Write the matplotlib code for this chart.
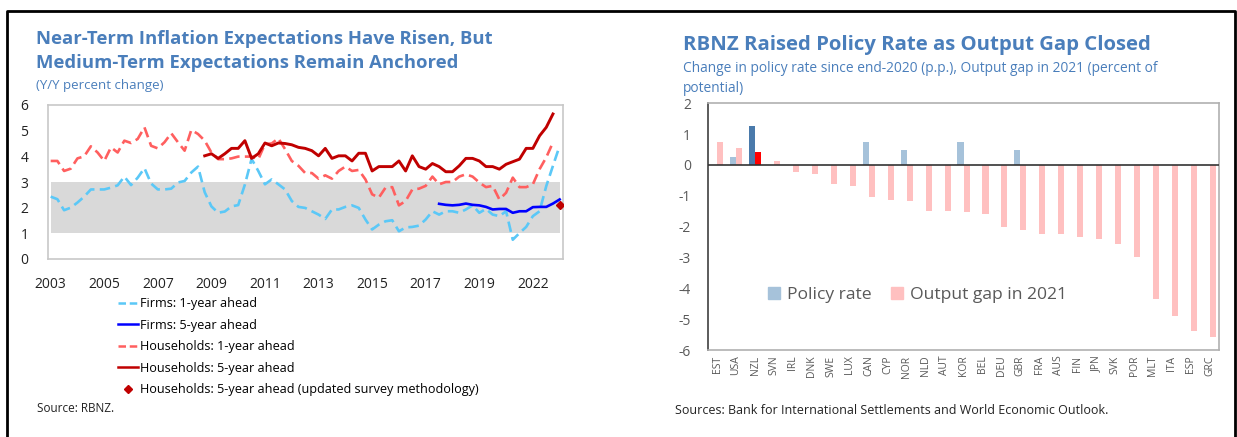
import numpy as np
import matplotlib; matplotlib.use("Agg")
import matplotlib.pyplot as plt
from matplotlib.lines import Line2D
from matplotlib.patches import Patch

plt.rcParams['font.family'] = ['Open Sans', 'DejaVu Sans']

# ---- left panel: inflation expectations (quarterly, 2003Q1 onward) ----
hh1 = [3.82,3.82,3.43,3.52,3.92,4.0,4.39,4.15,3.82,4.35,
       4.15,4.61,4.52,4.68,5.13,4.41,4.31,4.55,4.9,4.55,
       4.22,5.03,4.87,4.61,4.15,3.89,3.89,3.92,3.99,3.99,
       3.99,3.89,4.48,4.5,4.7,4.28,3.82,3.63,3.35,3.35,
       3.13,3.26,3.13,3.43,3.6,3.43,3.47,3.1,2.52,2.39,
       2.78,2.8,2.09,2.26,2.71,2.74,2.85,3.21,2.91,3.0,
       3.0,3.21,3.3,3.21,2.98,2.8,2.85,2.32,2.58,3.17,
       2.8,2.8,2.91,3.5,3.96,4.54]
hh5_start = 23
hh5 = [4.02,4.1,3.92,4.1,4.31,4.31,4.61,3.92,4.1,4.52,
       4.41,4.52,4.5,4.45,4.35,4.31,4.22,4.02,4.31,3.92,
       4.02,4.02,3.82,4.12,4.12,3.43,3.6,3.6,3.6,3.82,
       3.43,4.02,3.6,3.5,3.72,3.6,3.4,3.4,3.63,3.92,
       3.92,3.82,3.6,3.6,3.5,3.69,3.79,3.89,4.31,4.31,
       4.8,5.13,5.65]
f1 = [2.43,2.33,1.9,2.0,2.2,2.43,2.71,2.71,2.71,2.78,
      2.87,3.21,2.88,3.17,3.54,2.94,2.71,2.71,2.74,2.98,
      3.04,3.37,3.6,2.6,2.05,1.8,1.85,2.05,2.1,2.9,
      3.9,3.43,2.91,3.1,2.91,2.71,2.26,2.03,1.99,1.86,
      1.73,1.56,1.93,1.93,2.03,2.09,1.99,1.54,1.15,1.34,
      1.47,1.51,1.08,1.23,1.25,1.3,1.54,1.86,1.73,1.86,
      1.86,1.8,1.93,2.09,1.8,1.95,1.73,1.67,1.86,0.75,
      1.01,1.25,1.67,1.86,2.84,3.63,4.41]
f5_start = 58
f5 = [2.15,2.11,2.09,2.11,2.16,2.11,2.09,2.03,1.93,1.95,
      1.95,1.8,1.86,1.86,2.02,2.03,2.03,2.16,2.32]
hh5_new_q, hh5_new = 76, 2.1
band = (1, 3)
year_ticks = [0, 8, 16, 24, 32, 40, 48, 56, 64, 72]
year_labels = ['2003','2005','2007','2009','2011','2013','2015','2017','2019','2022']

# ---- right panel: policy rate change vs output gap ----
countries = ['EST','USA','NZL','SVN','IRL','DNK','SWE','LUX','CAN','CYP','NOR','NLD','AUT','KOR',
             'BEL','DEU','GBR','FRA','AUS','FIN','JPN','SVK','POR','MLT','ITA','ESP','GRC']
policy = [0,0.25,1.25,0,0,0,0,0,0.75,0,0.5,0,0,0.75,0,0,0.5,0,0,0,0,0,0,0,0,0,0]
gap = [0.75,0.56,0.43,0.13,-0.22,-0.3,-0.63,-0.69,-1.04,-1.12,-1.16,-1.49,-1.49,-1.54,
       -1.59,-2.0,-2.12,-2.23,-2.25,-2.32,-2.41,-2.56,-2.97,-4.33,-4.9,-5.37,-5.58]

TITLE = '#4a7ebb'
W, H = 1237, 437
fig = plt.figure(figsize=(W/100, H/100), dpi=100)

# outer box
fig.add_artist(Line2D([7/W, 7/W, 1235/W, 1235/W], [0, 1-11/H, 1-11/H, 0], color='black', lw=2))

# left panel
ax = fig.add_axes([48/W, 1-259/H, 515/W, 154/H])
ax.fill_between([0, 76], band[0], band[1], color='#d9d9d9', lw=0, zorder=1)
q = np.arange(len(f1))
ax.plot(q, f1, color='#5bc8f7', lw=1.9, ls=(0, (4, 2)), zorder=3)
ax.plot(np.arange(f5_start, f5_start+len(f5)), f5, color='#0000ff', lw=1.9, zorder=4)
ax.plot(np.arange(len(hh1)), hh1, color='#ff5f5f', lw=1.9, ls=(0, (4, 2)), zorder=3)
ax.plot(np.arange(hh5_start, hh5_start+len(hh5)), hh5, color='#c00000', lw=2.1, zorder=4)
ax.plot([hh5_new_q], [hh5_new], 'D', color='#c00000', ms=4.5, zorder=5)
ax.set_xlim(-0.4, 76.5); ax.set_ylim(0, 6)
ax.set_yticks(range(0, 7)); ax.set_xticks(year_ticks); ax.set_xticklabels(year_labels)
ax.tick_params(length=0, labelsize=10, colors='#222222')
ax.tick_params(axis='x', pad=13)
ax.tick_params(axis='y', pad=14)
for s in ax.spines.values(): s.set_color('#c8c8c8'); s.set_linewidth(1.2)

handles = [Line2D([], [], color='#5bc8f7', lw=1.8, ls=(0, (3, 1.5))),
           Line2D([], [], color='#0000ff', lw=1.8),
           Line2D([], [], color='#ff5f5f', lw=1.8, ls=(0, (3, 1.5))),
           Line2D([], [], color='#c00000', lw=1.8),
           Line2D([], [], color='#c00000', marker='D', ms=4.5, ls='none')]
labels = ['Firms: 1-year ahead', 'Firms: 5-year ahead', 'Households: 1-year ahead',
          'Households: 5-year ahead', 'Households: 5-year ahead (updated survey methodology)']
fig.legend(handles, labels, loc='upper left', bbox_to_anchor=(108/W, 1-287/H), frameon=False,
           fontsize=9.1, handlelength=1.6, handletextpad=0.1, labelspacing=0.68, borderpad=0.3)

fig.text(36/W, 1-39/H, 'Near-Term Inflation Expectations Have Risen, But', fontsize=13.3,
         fontweight='bold', color=TITLE, va='center')
fig.text(36/W, 1-63/H, 'Medium-Term Expectations Remain Anchored', fontsize=13.3,
         fontweight='bold', color=TITLE, va='center')
fig.text(36/W, 1-86/H, '(Y/Y percent change)', fontsize=9.5, color=TITLE, va='center')
fig.text(37/W, 1-409/H, 'Source: RBNZ.', fontsize=8.5, color='#222222', va='center')

# right panel
bx = fig.add_axes([707.7/W, 1-350/H, 511.6/W, 246.7/H])
x = np.arange(len(countries))
bw = 0.32
pc = ['#4a7aab' if c == 'NZL' else '#a6c2da' for c in countries]
gc = ['#ff0000' if c == 'NZL' else '#ffc0c0' for c in countries]
bx.bar(x - bw/2, policy, bw, color=pc, zorder=2)
bx.bar(x + bw/2, gap, bw, color=gc, zorder=2)
bx.axhline(0, color='#333333', lw=1.2, zorder=3)
bx.set_xlim(-0.5, 26.5); bx.set_ylim(-6, 2)
bx.set_yticks(range(-6, 3)); bx.set_yticklabels([str(v) for v in range(-6, 3)])
bx.set_xticks(x); bx.set_xticklabels(countries, rotation=90)
bx.tick_params(axis='y', length=0, labelsize=10, colors='#595959', pad=12)
bx.tick_params(axis='x', length=0, labelsize=7.5, colors='#595959', pad=4)
for s in bx.spines.values(): s.set_color('#b0b0b0'); s.set_linewidth(1.2)
bx.spines['left'].set_color('#404040')
bx.legend([Patch(color='#a6c2da'), Patch(color='#ffc0c0')], ['Policy rate', 'Output gap in 2021'],
          loc='center', bbox_to_anchor=(0.41, 0.223), ncol=2, frameon=False, fontsize=12.6,
          handlelength=0.7, handleheight=0.7, handletextpad=0.4, columnspacing=1.1,
          labelcolor='#595959')

fig.text(683/W, 1-45/H, 'RBNZ Raised Policy Rate as Output Gap Closed', fontsize=14.7,
         fontweight='bold', color=TITLE, va='center')
fig.text(683/W, 1-69/H, 'Change in policy rate since end-2020 (p.p.), Output gap in 2021 (percent of',
         fontsize=9.9, color=TITLE, va='center')
fig.text(683/W, 1-89/H, 'potential)', fontsize=9.9, color=TITLE, va='center')
fig.text(675/W, 1-411/H, 'Sources: Bank for International Settlements and World Economic Outlook.',
         fontsize=9, color='#222222', va='center')

fig.savefig('out.png', dpi=100)
